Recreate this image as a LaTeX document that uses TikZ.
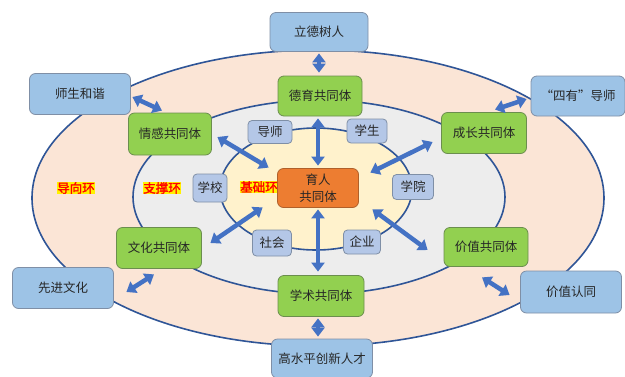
\documentclass[tikz,border=0pt]{standalone}
\usepackage{fontspec}
\setmainfont{Noto Sans CJK SC}
\newfontfamily\labfont[FakeBold=2]{Noto Sans CJK SC}
\usetikzlibrary{arrows.meta,calc}
\definecolor{peach}{HTML}{FBE5D6}
\definecolor{lgray}{HTML}{EDEDED}
\definecolor{lyellow}{HTML}{FFF2CC}
\definecolor{ringblue}{HTML}{2F5597}
\definecolor{boxblue}{HTML}{9DC3E6}
\definecolor{boxblueb}{HTML}{7F8FA6}
\definecolor{smallblue}{HTML}{B4C7E7}
\definecolor{boxgreen}{HTML}{92D050}
\definecolor{boxgreenb}{HTML}{6B8E4E}
\definecolor{boxorange}{HTML}{ED7D31}
\definecolor{boxorangeb}{HTML}{B0602A}
\definecolor{arrowblue}{HTML}{4472C4}
\definecolor{txt}{HTML}{262626}
\begin{document}
\begin{tikzpicture}[x=1pt,y=-1pt,
  font=\fontsize{12.5}{15}\selectfont,
  base/.style={rounded corners=6pt, line width=0.8pt, inner sep=0pt, text=txt},
  goal/.style={base, fill=boxblue, draw=boxblueb, minimum width=101pt, minimum height=41pt},
  comm/.style={base, fill=boxgreen, draw=boxgreenb, minimum width=85pt, minimum height=41pt},
  small/.style={base, rounded corners=4pt, fill=smallblue, draw=boxblueb, minimum width=40pt, minimum height=25pt},
  core/.style={base, fill=boxorange, draw=boxorangeb, minimum width=81pt, minimum height=39pt, align=center, font=\fontsize{12.5}{17}\selectfont},
  ring/.style={font=\labfont\fontsize{12.5}{15}\selectfont, text=red, fill=yellow, inner sep=0.5pt},
  dbl/.style={draw=arrowblue, line width=4.5pt,
    {Triangle[width=13pt,length=9pt]}-{Triangle[width=13pt,length=9pt]}}
]
\useasboundingbox (0,0) rectangle (625,376);
\fill[white] (0,0) rectangle (625,376);
% rings
\draw[fill=peach, draw=ringblue, line width=1.6pt] (318,198) ellipse [x radius=286pt, y radius=148pt];
\draw[fill=lgray, draw=ringblue, line width=1.6pt] (319,197) ellipse [x radius=186pt, y radius=97pt];
\draw[fill=lyellow, draw=ringblue, line width=1.6pt] (316,189) ellipse [x radius=96pt, y radius=61pt];
% ring labels
\node[ring] (lb1) at (76,188) {导向环};
\node[ring] (lb2) at (162,188) {支撑环};
\node[ring] (lb3) at (259,187) {基础环};
% nodes
\node[goal, minimum width=98pt, minimum height=39pt] (lds) at (319,32) {立德树人};
\node[comm, minimum width=84pt, minimum height=40pt] (dy) at (320,96) {德育共同体};
\node[goal] (ssh) at (80,94) {师生和谐};
\node[comm, minimum width=83pt, minimum height=42pt] (qg) at (170,134) {情感共同体};
\node[small, minimum width=44pt, minimum height=23pt] (ds) at (270,132) {导师};
\node[small, minimum height=24pt] (xs) at (367,131) {学生};
\node[goal, minimum width=94pt, minimum height=40pt] (syd) at (578,96) {“四有”导师};
\node[comm] (cz) at (484,133) {成长共同体};
\node[core] (yr) at (318,188) {育人\\共同体};
\node[small, minimum width=34pt, minimum height=28pt] (xx) at (210,188) {学校};
\node[small, minimum width=41pt] (xy) at (413,187) {学院};
\node[small, minimum width=39pt, minimum height=26pt] (sh) at (272,243) {社会};
\node[small, minimum width=37pt, minimum height=24pt] (qy) at (362,242) {企业};
\node[comm] (wh) at (159,248) {文化共同体};
\node[goal] (xj) at (63,288) {先进文化};
\node[comm, minimum width=86pt] (xsh) at (321,296) {学术共同体};
\node[goal, minimum height=39pt] (gsp) at (322,358.5) {高水平创新人才};
\node[comm, minimum width=84pt, minimum height=39pt] (jz) at (486,247) {价值共同体};
\node[goal, minimum height=42pt] (jr) at (571,292) {价值认同};
% arrows
\draw[dbl, shorten <=1.5pt, shorten >=3pt] (lds.south) -- (lds.south |- dy.north);
\draw[dbl, shorten <=2pt, shorten >=2.5pt] (dy.south -| yr.north) -- (yr.north);
\draw[dbl, shorten <=1.5pt, shorten >=3.5pt] (yr.south) -- (yr.south |- xsh.north);
\draw[dbl, shorten <=1.5pt, shorten >=2pt] (xsh.south -| yr.south) -- (yr.south |- gsp.north);
\draw[dbl] ($(ssh.east)+(1.5,3)$) -- ($(qg.north)+(-8,-2)$);
\draw[dbl] ($(qg.east)+(5.5,3)$) -- ($(yr.north west)+(-8.5,-0.5)$);
\draw[dbl] ($(syd.west)+(-4,3)$) -- ($(cz.north)+(11,-2.5)$);
\draw[dbl] ($(cz.west)+(-8.5,9)$) -- ($(yr.north east)+(11.5,4.5)$);
\draw[dbl] ($(wh.east)+(8.5,-5)$) -- ($(yr.south west)+(-14.5,-0.5)$);
\draw[dbl] ($(xj.east)+(12.5,4)$) -- ($(wh.south)+(-5,5.5)$);
\draw[dbl] ($(yr.south east)+(13.5,1.5)$) -- ($(jz.west)+(-16,3)$);
\draw[dbl] ($(jz.south)+(-4,10.5)$) -- ($(jr.west)+(-10.5,3)$);
\end{tikzpicture}
\end{document}
